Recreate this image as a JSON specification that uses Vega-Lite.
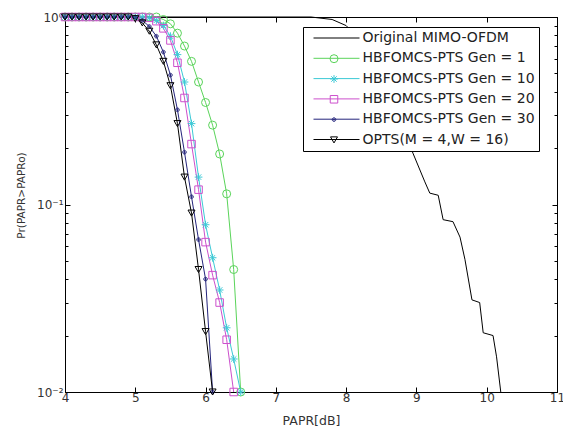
{
  "$schema": "https://vega.github.io/schema/vega-lite/v6.json",
  "width": 492,
  "height": 375,
  "autosize": {"type": "none"},
  "padding": {"left": 65, "top": 17, "right": 6, "bottom": 43},
  "background": "white",
  "config": {"view": {"stroke": "#000", "strokeWidth": 1}, "font": "DejaVu Sans"},
  "data": {"values": [
    {"s":"Orig","x":4,"p":1},{"s":"Orig","x":7.5,"p":1},{"s":"Orig","x":7.8,"p":0.97},{"s":"Orig","x":8.0,"p":0.9},{"s":"Orig","x":8.2,"p":0.75},{"s":"Orig","x":8.4,"p":0.55},{"s":"Orig","x":8.6,"p":0.38},{"s":"Orig","x":8.8,"p":0.26},{"s":"Orig","x":8.95,"p":0.188},{"s":"Orig","x":9.12,"p":0.132},{"s":"Orig","x":9.19,"p":0.115},{"s":"Orig","x":9.31,"p":0.112},{"s":"Orig","x":9.38,"p":0.083},{"s":"Orig","x":9.52,"p":0.081},{"s":"Orig","x":9.62,"p":0.067},{"s":"Orig","x":9.69,"p":0.051},{"s":"Orig","x":9.79,"p":0.031},{"s":"Orig","x":9.9,"p":0.03},{"s":"Orig","x":9.95,"p":0.0207},{"s":"Orig","x":10.09,"p":0.02},{"s":"Orig","x":10.14,"p":0.0154},{"s":"Orig","x":10.2,"p":0.01},

    {"s":"Gen1","x":4.0,"p":1},{"s":"Gen1","x":4.1,"p":1},{"s":"Gen1","x":4.2,"p":1},{"s":"Gen1","x":4.3,"p":1},{"s":"Gen1","x":4.4,"p":1},{"s":"Gen1","x":4.5,"p":1},{"s":"Gen1","x":4.6,"p":1},{"s":"Gen1","x":4.7,"p":1},{"s":"Gen1","x":4.8,"p":1},{"s":"Gen1","x":4.9,"p":1},{"s":"Gen1","x":5.0,"p":1},{"s":"Gen1","x":5.1,"p":1},{"s":"Gen1","x":5.2,"p":1},{"s":"Gen1","x":5.3,"p":1},{"s":"Gen1","x":5.4,"p":0.97},{"s":"Gen1","x":5.5,"p":0.92},{"s":"Gen1","x":5.6,"p":0.82},{"s":"Gen1","x":5.7,"p":0.7},{"s":"Gen1","x":5.8,"p":0.58},{"s":"Gen1","x":5.9,"p":0.45},{"s":"Gen1","x":6.0,"p":0.35},{"s":"Gen1","x":6.1,"p":0.265},{"s":"Gen1","x":6.2,"p":0.186},{"s":"Gen1","x":6.3,"p":0.114},{"s":"Gen1","x":6.4,"p":0.045},{"s":"Gen1","x":6.5,"p":0.01},

    {"s":"Gen10","x":4.0,"p":1},{"s":"Gen10","x":4.1,"p":1},{"s":"Gen10","x":4.2,"p":1},{"s":"Gen10","x":4.3,"p":1},{"s":"Gen10","x":4.4,"p":1},{"s":"Gen10","x":4.5,"p":1},{"s":"Gen10","x":4.6,"p":1},{"s":"Gen10","x":4.7,"p":1},{"s":"Gen10","x":4.8,"p":1},{"s":"Gen10","x":4.9,"p":1},{"s":"Gen10","x":5.0,"p":1},{"s":"Gen10","x":5.1,"p":1},{"s":"Gen10","x":5.2,"p":0.99},{"s":"Gen10","x":5.3,"p":0.96},{"s":"Gen10","x":5.4,"p":0.9},{"s":"Gen10","x":5.5,"p":0.79},{"s":"Gen10","x":5.6,"p":0.63},{"s":"Gen10","x":5.7,"p":0.45},{"s":"Gen10","x":5.8,"p":0.27},{"s":"Gen10","x":5.9,"p":0.14},{"s":"Gen10","x":6.0,"p":0.078},{"s":"Gen10","x":6.1,"p":0.052},{"s":"Gen10","x":6.2,"p":0.035},{"s":"Gen10","x":6.3,"p":0.022},{"s":"Gen10","x":6.4,"p":0.015},{"s":"Gen10","x":6.5,"p":0.01},

    {"s":"Gen20","x":4.0,"p":1},{"s":"Gen20","x":4.1,"p":1},{"s":"Gen20","x":4.2,"p":1},{"s":"Gen20","x":4.3,"p":1},{"s":"Gen20","x":4.4,"p":1},{"s":"Gen20","x":4.5,"p":1},{"s":"Gen20","x":4.6,"p":1},{"s":"Gen20","x":4.7,"p":1},{"s":"Gen20","x":4.8,"p":1},{"s":"Gen20","x":4.9,"p":1},{"s":"Gen20","x":5.0,"p":1},{"s":"Gen20","x":5.1,"p":1},{"s":"Gen20","x":5.2,"p":0.99},{"s":"Gen20","x":5.3,"p":0.95},{"s":"Gen20","x":5.4,"p":0.87},{"s":"Gen20","x":5.5,"p":0.75},{"s":"Gen20","x":5.6,"p":0.57},{"s":"Gen20","x":5.7,"p":0.37},{"s":"Gen20","x":5.8,"p":0.21},{"s":"Gen20","x":5.9,"p":0.12},{"s":"Gen20","x":6.0,"p":0.063},{"s":"Gen20","x":6.1,"p":0.042},{"s":"Gen20","x":6.2,"p":0.03},{"s":"Gen20","x":6.3,"p":0.019},{"s":"Gen20","x":6.4,"p":0.01},

    {"s":"Gen30","x":4.0,"p":1},{"s":"Gen30","x":4.1,"p":1},{"s":"Gen30","x":4.2,"p":1},{"s":"Gen30","x":4.3,"p":1},{"s":"Gen30","x":4.4,"p":1},{"s":"Gen30","x":4.5,"p":1},{"s":"Gen30","x":4.6,"p":1},{"s":"Gen30","x":4.7,"p":1},{"s":"Gen30","x":4.8,"p":1},{"s":"Gen30","x":4.9,"p":1},{"s":"Gen30","x":5.0,"p":1},{"s":"Gen30","x":5.1,"p":0.96},{"s":"Gen30","x":5.2,"p":0.89},{"s":"Gen30","x":5.3,"p":0.79},{"s":"Gen30","x":5.4,"p":0.65},{"s":"Gen30","x":5.5,"p":0.49},{"s":"Gen30","x":5.6,"p":0.32},{"s":"Gen30","x":5.7,"p":0.19},{"s":"Gen30","x":5.8,"p":0.11},{"s":"Gen30","x":5.9,"p":0.065},{"s":"Gen30","x":6.0,"p":0.04},{"s":"Gen30","x":6.1,"p":0.01},

    {"s":"OPTS","x":4.0,"p":1},{"s":"OPTS","x":4.1,"p":1},{"s":"OPTS","x":4.2,"p":1},{"s":"OPTS","x":4.3,"p":1},{"s":"OPTS","x":4.4,"p":1},{"s":"OPTS","x":4.5,"p":1},{"s":"OPTS","x":4.6,"p":1},{"s":"OPTS","x":4.7,"p":1},{"s":"OPTS","x":4.8,"p":1},{"s":"OPTS","x":4.9,"p":1},{"s":"OPTS","x":5.0,"p":0.98},{"s":"OPTS","x":5.1,"p":0.93},{"s":"OPTS","x":5.2,"p":0.84},{"s":"OPTS","x":5.3,"p":0.71},{"s":"OPTS","x":5.4,"p":0.58},{"s":"OPTS","x":5.5,"p":0.43},{"s":"OPTS","x":5.6,"p":0.27},{"s":"OPTS","x":5.7,"p":0.14},{"s":"OPTS","x":5.8,"p":0.09},{"s":"OPTS","x":5.9,"p":0.045},{"s":"OPTS","x":6.0,"p":0.021},{"s":"OPTS","x":6.1,"p":0.01}
  ]},
  "layer": [
    {
      "mark": {"type": "line", "strokeWidth": 1, "clip": false},
      "encoding": {
        "x": {"field": "x", "type": "quantitative",
          "scale": {"domain": [4, 11], "nice": false, "zero": false},
          "axis": {"orient": "bottom", "values": [4,5,6,7,8,9,10,11], "format": "d", "grid": false,
            "tickSize": -5, "tickColor": "#000", "domainColor": "#000", "labelFlush": false,
            "labelFont": "DejaVu Sans", "labelFontSize": 12, "labelColor": "#333", "labelPadding": 5,
            "title": "PAPR[dB]", "titleFont": "DejaVu Sans", "titleFontSize": 12.5, "titleFontWeight": "normal", "titleColor": "#333",
            "titleY": 28, "titleBaseline": "middle"}},
        "y": {"field": "p", "type": "quantitative",
          "scale": {"type": "log", "domain": [0.01, 1], "nice": false},
          "axis": {"orient": "left", "values": [0.01,0.02,0.03,0.04,0.05,0.06,0.07,0.08,0.09,0.1,0.2,0.3,0.4,0.5,0.6,0.7,0.8,0.9,1], "grid": false,
            "tickSize": {"condition": {"test": "datum.value == 1 || datum.value == 0.1 || datum.value == 0.01", "value": -5}, "value": -3},
            "tickColor": "#000", "domainColor": "#000", "labelFlush": false,
            "labelExpr": "datum.value == 1 ? '10⁰' : datum.value == 0.1 ? '10⁻¹' : datum.value == 0.01 ? '10⁻²' : ''",
            "labelFont": "DejaVu Sans", "labelFontSize": 12, "labelColor": "#333", "labelPadding": 7,
            "title": "Pr(PAPR>PAPRo)", "titleFont": "DejaVu Sans", "titleFontSize": 10.5, "titleFontWeight": "normal", "titleColor": "#333",
            "titleX": -44, "titleY": 178, "titleAngle": 270, "titleAlign": "center", "titleBaseline": "middle"}},
        "stroke": {"field": "s", "type": "nominal",
          "scale": {"domain": ["Orig","Gen1","Gen10","Gen20","Gen30","OPTS"], "range": ["#000000","#5ad45a","#3cc9d6","#cc4fcc","#24247c","#000000"]},
          "legend": {
            "title": null, "orient": "none", "legendX": 238, "legendY": 10, "direction": "vertical",
            "fillColor": "white", "strokeColor": "#000", "cornerRadius": 0,
            "padding": 4, "rowPadding": 6.3,
            "symbolType": "M-4.6,0L4.6,0", "symbolSize": 100, "symbolStrokeWidth": 1, "symbolOffset": 22.5,
            "labelFont": "DejaVu Sans", "labelFontSize": 14, "labelColor": "#222", "labelOffset": 19, "labelLimit": 300,
            "labelExpr": "datum.value == 'Orig' ? 'Original MIMO-OFDM' : datum.value == 'Gen1' ? 'HBFOMCS-PTS Gen = 1' : datum.value == 'Gen10' ? 'HBFOMCS-PTS Gen = 10' : datum.value == 'Gen20' ? 'HBFOMCS-PTS Gen = 20' : datum.value == 'Gen30' ? 'HBFOMCS-PTS Gen = 30' : 'OPTS(M = 4,W = 16)'"
          }}
      }
    },
    {
      "transform": [{"filter": "datum.s != 'Orig'"}],
      "mark": {"type": "point", "filled": false, "strokeWidth": 1, "opacity": 1, "clip": false},
      "encoding": {
        "x": {"field": "x", "type": "quantitative",
          "axis": {"orient": "top", "values": [4,5,6,7,8,9,10,11], "labels": false, "title": null, "grid": false,
            "tickSize": -5, "tickColor": "#000", "domainColor": "#000"}},
        "y": {"field": "p", "type": "quantitative",
          "axis": {"orient": "right", "values": [0.01,0.02,0.03,0.04,0.05,0.06,0.07,0.08,0.09,0.1,0.2,0.3,0.4,0.5,0.6,0.7,0.8,0.9,1], "labels": false, "title": null, "grid": false,
            "tickSize": {"condition": {"test": "datum.value == 1 || datum.value == 0.1 || datum.value == 0.01", "value": -5}, "value": -3},
            "tickColor": "#000", "domainColor": "#000"}},
        "color": {"field": "s", "type": "nominal",
          "scale": {"domain": ["Gen1","Gen10","Gen20","Gen30","OPTS"], "range": ["#5ad45a","#3cc9d6","#cc4fcc","#24247c","#000000"]},
          "legend": {
            "title": null, "orient": "none", "legendX": 258, "legendY": 30.7, "direction": "vertical",
            "padding": 4, "rowPadding": 6.3, "symbolSize": 56, "symbolStrokeWidth": 1,
            "labelFont": "DejaVu Sans", "labelFontSize": 14, "labelOpacity": 0, "labelOffset": 5, "labelLimit": 300,
            "labelExpr": "' '"
          }},
        "shape": {"field": "s", "type": "nominal",
          "scale": {"domain": ["Gen1","Gen10","Gen20","Gen30","OPTS"],
            "range": ["circle", "M-1,0L1,0M0,-1L0,1M-0.7,-0.7L0.7,0.7M-0.7,0.7L0.7,-0.7", "square", "M0.5,0A0.5,0.5,0,1,1,-0.5,0A0.5,0.5,0,1,1,0.5,0M0.2,0A0.2,0.2,0,1,1,-0.2,0A0.2,0.2,0,1,1,0.2,0", "triangle-down"]},
          "legend": {
            "title": null, "orient": "none", "legendX": 258, "legendY": 30.7, "direction": "vertical",
            "padding": 4, "rowPadding": 6.3, "symbolSize": 56, "symbolStrokeWidth": 1,
            "labelFont": "DejaVu Sans", "labelFontSize": 14, "labelOpacity": 0, "labelOffset": 5, "labelLimit": 300,
            "labelExpr": "' '"
          }},
        "size": {"field": "s", "type": "ordinal", "legend": null,
          "scale": {"domain": ["Gen1","Gen10","Gen20","Gen30","OPTS"], "range": [64, 49, 56, 100, 56]}}
      }
    }
  ],
  "resolve": {"axis": {"x": "independent", "y": "independent"}}
}
